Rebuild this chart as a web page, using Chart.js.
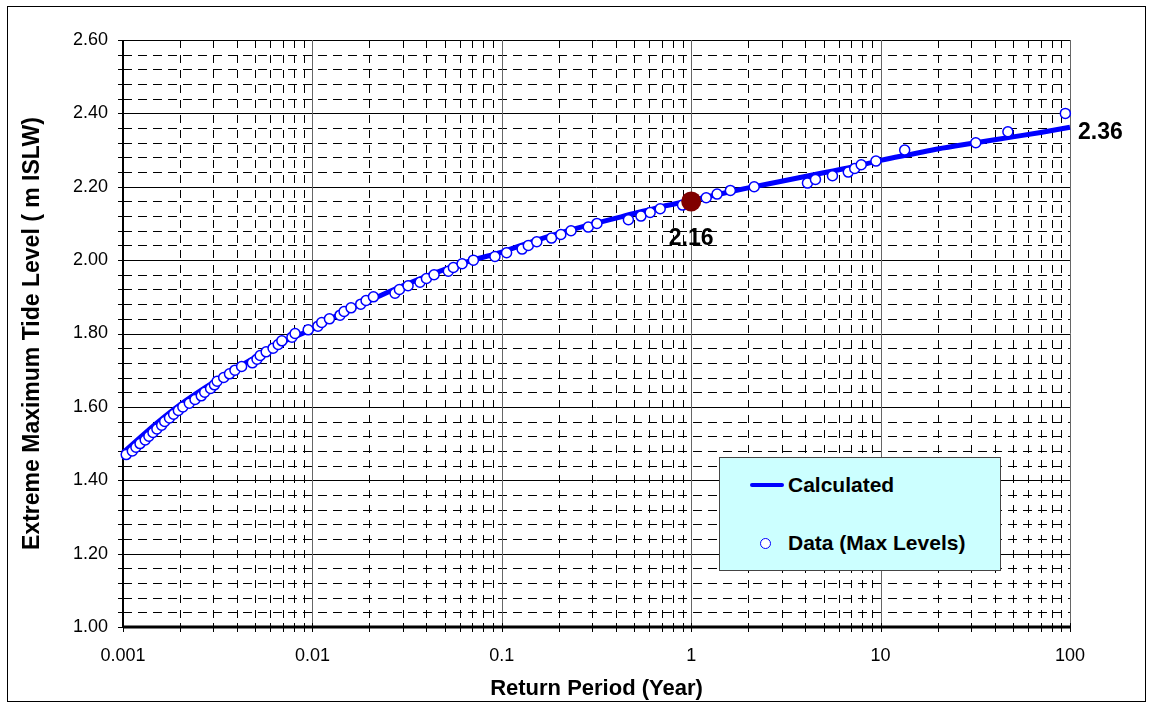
<!DOCTYPE html>
<html>
<head>
<meta charset="utf-8">
<script src="https://cdn.jsdelivr.net/npm/chart.js@4.4.0/dist/chart.umd.min.js"></script>
<style>
html, body { margin: 0; padding: 0; background: #fff; }
#wrap { position: relative; width: 1152px; height: 707px; }
#frame { position: absolute; left: 7px; top: 6px; width: 1137px; height: 694px; border: 1px solid #000; pointer-events: none; }
#legend { position: absolute; left: 719px; top: 457px; width: 280px; height: 112px; background: #ccffff; border: 1px solid #444;
  font-family: "Liberation Sans", Arial, sans-serif; font-weight: bold; font-size: 21px; color: #000; }
#legend .txt { position: absolute; left: 68px; line-height: 24px; white-space: nowrap; }
#legend .line { position: absolute; left: 30px; top: 25px; width: 34px; height: 4px; background: #0000ff; border-radius: 2px; }
#legend .dot { position: absolute; left: 40px; top: 80px; width: 9px; height: 9px; border: 1.5px solid #0000ff; border-radius: 50%; background: #fff; }
</style>
</head>
<body>
<div id="wrap">
  <canvas id="chart" width="1152" height="707"></canvas>
  <div id="frame"></div>
  <div id="legend">
    <div class="line"></div><div class="txt" style="top:15px">Calculated</div>
    <div class="dot"></div><div class="txt" style="top:73px">Data (Max Levels)</div>
  </div>
</div>
<script>
// calculated curve (return period, level)
var calcPeriod = [0.001, 0.0015, 0.002, 0.003, 0.005, 0.007, 0.01, 0.015, 0.02, 0.03, 0.05, 0.07, 0.1, 0.15, 0.2, 0.3, 0.5, 0.7, 1, 1.5, 2, 3, 5, 7, 10, 15, 20, 30, 50, 70, 100];
var calcLevel  = [1.475, 1.555, 1.606, 1.667, 1.735, 1.777, 1.812, 1.862, 1.890, 1.930, 1.975, 2.000, 2.022, 2.053, 2.073, 2.098, 2.127, 2.146, 2.163, 2.183, 2.197, 2.215, 2.238, 2.253, 2.272, 2.290, 2.303, 2.318, 2.336, 2.348, 2.362];

// observed max levels
var dataPeriod = [0.00104, 0.00112, 0.00117, 0.00123, 0.00131, 0.00137, 0.00144, 0.00151, 0.0016, 0.00166,
  0.00176, 0.00185, 0.00196, 0.00207, 0.00224, 0.0024, 0.00259, 0.0027, 0.0029, 0.00304,
  0.00314, 0.0034, 0.00365, 0.0039, 0.00423, 0.00482, 0.0051, 0.0053, 0.0057, 0.0062,
  0.0066, 0.0069, 0.0078, 0.0081, 0.0095, 0.0107, 0.0112, 0.0123, 0.014, 0.0147,
  0.016, 0.018, 0.0192, 0.021, 0.0273, 0.0288, 0.032, 0.037, 0.040, 0.0439,
  0.0522, 0.0555, 0.0617, 0.0708, 0.092, 0.106, 0.128, 0.138, 0.153, 0.183,
  0.205, 0.232, 0.286, 0.318, 0.466, 0.543, 0.607, 0.686, 0.90, 1.2,
  1.37, 1.61, 2.15, 4.11, 4.53, 5.57, 6.75, 7.3, 7.9, 9.45,
  13.4, 31.8, 47, 94.5];
var dataLevel = [1.47, 1.48, 1.49, 1.50, 1.51, 1.52, 1.53, 1.54, 1.55, 1.56,
  1.57, 1.58, 1.59, 1.60, 1.61, 1.62, 1.63, 1.64, 1.65, 1.66,
  1.67, 1.68, 1.69, 1.70, 1.71, 1.72, 1.73, 1.74, 1.75, 1.76,
  1.77, 1.78, 1.79, 1.80, 1.81, 1.82, 1.83, 1.84, 1.85, 1.86,
  1.87, 1.88, 1.89, 1.90, 1.91, 1.92, 1.93, 1.94, 1.95, 1.96,
  1.97, 1.98, 1.99, 2.00, 2.01, 2.02, 2.03, 2.04, 2.05, 2.06,
  2.07, 2.08, 2.09, 2.10, 2.11, 2.12, 2.13, 2.14, 2.15, 2.17,
  2.18, 2.19, 2.20, 2.21, 2.22, 2.23, 2.24, 2.25, 2.26, 2.27,
  2.30, 2.32, 2.35, 2.40];

// highlighted 1-year level and end label
var markPeriod = [1];
var markLevel = [2.16];
var endPeriod = 100;
var endLevel = 2.36;

var xTickValues = [0.001, 0.01, 0.1, 1, 10, 100];
var xTickLabels = ['0.001', '0.01', '0.1', '1', '10', '100'];

var fontFam = '"Liberation Sans", Arial, sans-serif';

function pts(xs, ys) {
    var out = [];
    xs.forEach(function(x, i) { out.push({x: x, y: ys[i]}); });
    return out;
}

// grid with solid majors and dashed minors, plus small axis ticks
var gridPlugin = {
    id: 'excelGrid',
    beforeDatasetsDraw: function(chart) {
        var ctx = chart.ctx, xs = chart.scales.x, ys = chart.scales.y, a = chart.chartArea;
        ctx.save();
        ctx.lineWidth = 1;
        // minor horizontal
        ctx.strokeStyle = '#000';
        ctx.setLineDash([9, 6]);
        for (var k = 0; k <= 40; k++) {
            var v = 1 + k * 0.04;
            if (k % 5 == 0) continue;
            var py = Math.round(ys.getPixelForValue(v)) + 0.5;
            ctx.beginPath(); ctx.moveTo(a.left, py); ctx.lineTo(a.right, py); ctx.stroke();
        }
        // minor vertical
        ctx.setLineDash([8, 7]);
        var minors = [];
        for (var d = 0.001; d < 50; d *= 10) {
            for (var m = 2; m <= 9; m++) minors.push(d * m);
        }
        minors.forEach(function(v) {
            var px = Math.round(xs.getPixelForValue(v)) + 0.5;
            ctx.beginPath(); ctx.moveTo(px, a.top); ctx.lineTo(px, a.bottom); ctx.stroke();
        });
        ctx.setLineDash([]);
        // major horizontal
        for (var j = 0; j <= 8; j++) {
            var py2 = Math.round(ys.getPixelForValue(1 + j * 0.2)) + 0.5;
            ctx.beginPath(); ctx.moveTo(a.left, py2); ctx.lineTo(a.right, py2); ctx.stroke();
        }
        // major vertical
        ctx.strokeStyle = '#666';
        xTickValues.forEach(function(v) {
            var px = Math.round(xs.getPixelForValue(v)) + 0.5;
            ctx.beginPath(); ctx.moveTo(px, a.top); ctx.lineTo(px, a.bottom); ctx.stroke();
        });
        // ticks
        ctx.strokeStyle = '#000';
        for (var t = 0; t <= 40; t++) {
            var ty = Math.round(ys.getPixelForValue(1 + t * 0.04)) + 0.5;
            ctx.beginPath(); ctx.moveTo(a.left - 5, ty); ctx.lineTo(a.left + 4, ty); ctx.stroke();
        }
        minors.concat(xTickValues).forEach(function(v) {
            var px = Math.round(xs.getPixelForValue(v)) + 0.5;
            ctx.beginPath(); ctx.moveTo(px, a.bottom - 4); ctx.lineTo(px, a.bottom + 5); ctx.stroke();
        });
        // axis lines
        ctx.lineWidth = 2;
        ctx.beginPath(); ctx.moveTo(a.left, a.top); ctx.lineTo(a.left, a.bottom); ctx.stroke();
        ctx.lineWidth = 3;
        ctx.beginPath(); ctx.moveTo(a.left, a.bottom); ctx.lineTo(a.right + 1, a.bottom); ctx.stroke();
        ctx.restore();
    },
    afterDatasetsDraw: function(chart) {
        var ctx = chart.ctx, xs = chart.scales.x, ys = chart.scales.y;
        ctx.save();
        ctx.fillStyle = '#000';
        ctx.font = 'bold 23px ' + fontFam;
        ctx.textBaseline = 'middle';
        ctx.textAlign = 'center';
        ctx.fillText(markLevel[0].toFixed(2), xs.getPixelForValue(markPeriod[0]), ys.getPixelForValue(markLevel[0]) + 37);
        ctx.textAlign = 'left';
        ctx.fillText(endLevel.toFixed(2), xs.getPixelForValue(endPeriod) + 8, ys.getPixelForValue(endLevel) + 5);
        ctx.restore();
    }
};

var config = {
    type: 'scatter',
    data: {
        datasets: [{
            label: 'Calculated',
            data: pts(calcPeriod, calcLevel),
            showLine: true,
            borderColor: '#0000ff',
            borderWidth: 5,
            pointRadius: 0,
            tension: 0.4,
            cubicInterpolationMode: 'monotone',
            order: 3,
            clip: false
        }, {
            label: 'Data (Max Levels)',
            data: pts(dataPeriod, dataLevel),
            showLine: false,
            pointRadius: 5,
            pointBorderWidth: 1.5,
            pointBorderColor: '#0000ff',
            pointBackgroundColor: '#ffffff',
            order: 2,
            clip: false
        }, {
            label: '1 year',
            data: pts(markPeriod, markLevel),
            showLine: false,
            pointRadius: 10,
            pointBorderWidth: 0,
            pointBackgroundColor: '#800000',
            pointBorderColor: '#800000',
            order: 1,
            clip: false
        }]
    },
    options: {
        responsive: false,
        animation: false,
        layout: { padding: { top: 40, right: 82, left: 0, bottom: 0 } },
        plugins: {
            legend: { display: false },
            tooltip: { enabled: false }
        },
        scales: {
            x: {
                type: 'logarithmic',
                min: 0.001,
                max: 100,
                afterBuildTicks: function(scale) {
                    scale.ticks = xTickValues.map(function(v) { return {value: v}; });
                },
                afterFit: function(scale) { scale.height = 80; },
                grid: { display: false },
                border: { display: false },
                ticks: {
                    autoSkip: false,
                    maxRotation: 0,
                    padding: 10,
                    color: '#000',
                    font: { family: fontFam, size: 18 },
                    callback: function(v, i) { return xTickLabels[i]; }
                },
                title: {
                    display: true,
                    text: 'Return Period (Year)',
                    color: '#000',
                    font: { family: fontFam, size: 22, weight: 'bold' },
                    padding: { bottom: 5 }
                }
            },
            y: {
                min: 1,
                max: 2.6,
                afterFit: function(scale) { scale.width = 123; },
                grid: { display: false },
                border: { display: false },
                ticks: {
                    stepSize: 0.2,
                    padding: 7,
                    color: '#000',
                    font: { family: fontFam, size: 18 },
                    callback: function(v) { return v.toFixed(2); }
                },
                title: {
                    display: true,
                    text: 'Extreme Maximum Tide Level ( m ISLW)',
                    color: '#000',
                    font: { family: fontFam, size: 23, weight: 'bold' },
                    padding: { top: 19 }
                }
            }
        }
    },
    plugins: [gridPlugin]
};

var ctx = document.getElementById('chart');
window.myChart = new Chart(ctx, config);
</script>
</body>
</html>
